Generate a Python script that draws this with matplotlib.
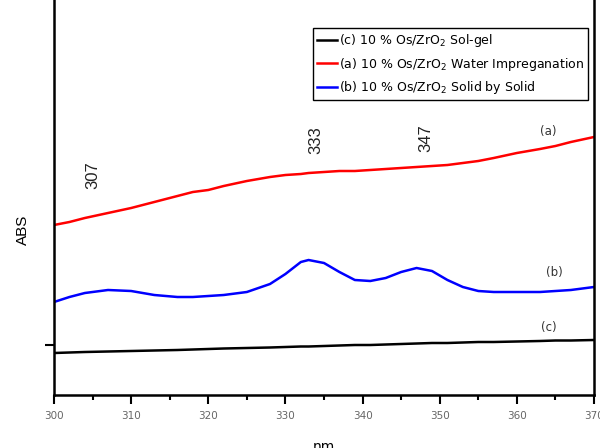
import numpy as np
import matplotlib
matplotlib.use("Agg")
import matplotlib.pyplot as plt

plt.rcParams['font.family'] = ['DejaVu Sans']

# wavelength (nm) and absorbance (arbitrary units)
nm = [300, 302, 304, 307, 310, 313, 316, 318, 320, 322, 325, 328, 330, 332, 333,
      335, 337, 339, 341, 343, 345, 347, 349, 351, 353, 355, 357, 360, 363, 365,
      367, 370]

abs_a = [1.73, 1.76, 1.80, 1.85, 1.90, 1.96, 2.02, 2.06, 2.08, 2.12, 2.17, 2.21,
         2.23, 2.24, 2.25, 2.26, 2.27, 2.27, 2.28, 2.29, 2.30, 2.31, 2.32, 2.33,
         2.35, 2.37, 2.40, 2.45, 2.49, 2.52, 2.56, 2.61]

abs_b = [0.96, 1.01, 1.05, 1.08, 1.07, 1.03, 1.01, 1.01, 1.02, 1.03, 1.06, 1.14,
         1.24, 1.36, 1.38, 1.35, 1.26, 1.18, 1.17, 1.20, 1.26, 1.30, 1.27, 1.18,
         1.11, 1.07, 1.06, 1.06, 1.06, 1.07, 1.08, 1.11]

abs_c = [0.45, 0.455, 0.46, 0.465, 0.47, 0.475, 0.48, 0.485, 0.49, 0.495, 0.50,
         0.505, 0.51, 0.515, 0.515, 0.52, 0.525, 0.53, 0.53, 0.535, 0.54, 0.545,
         0.55, 0.55, 0.555, 0.56, 0.56, 0.565, 0.57, 0.575, 0.575, 0.58]

labels = ["(c) 10 % Os/ZrO$_2$ Sol-gel",
          "(a) 10 % Os/ZrO$_2$ Water Impreganation",
          "(b) 10 % Os/ZrO$_2$ Solid by Solid"]

peaks = [307, 333, 347]
peak_y = [2.23, 2.58, 2.60]

fig = plt.figure(figsize=(6, 4.48), dpi=100)
ax = fig.add_axes([0.09, 0.1183, 0.90, 0.8817])

ax.plot(nm, abs_c, color='black', lw=1.8, label=labels[0])
ax.plot(nm, abs_a, color='red', lw=1.8, label=labels[1])
ax.plot(nm, abs_b, color='blue', lw=1.8, label=labels[2])

# peak labels sit a little off their wavelength in the original
shifts = [-2.0, 0.9, 1.2]
for p, yy, dx in zip(peaks, peak_y, shifts):
    ax.text(p + dx, yy, str(p), rotation=90, ha='center', va='center',
            fontsize=12, color='#222222', family='Liberation Sans')

ax.text(364.1, 2.67, "(a)", fontsize=8.5, ha='center', va='center', color='#333333')
ax.text(364.8, 1.26, "(b)", fontsize=8.5, ha='center', va='center', color='#333333')
ax.text(364.1, 0.71, "(c)", fontsize=8.5, ha='center', va='center', color='#333333')

ax.set_xlim(300, 370)
ax.set_ylim(0.03, 3.98)
ax.set_xticks(np.arange(300, 371, 10))
ax.set_xticks(np.arange(305, 370, 10), minor=True)
ax.set_yticks([0.53])
ax.set_yticklabels([])
ax.tick_params(axis='x', which='major', length=6.5, width=1.5, labelsize=7.5,
               labelcolor='#666666', pad=5)
ax.tick_params(axis='x', which='minor', length=3.5, width=1.5)
ax.tick_params(axis='y', length=6.5, width=1.5)

for s in ['left', 'right', 'bottom']:
    ax.spines[s].set_linewidth(1.8)
ax.spines['top'].set_visible(False)

ax.set_ylabel("ABS", fontsize=11, family='Liberation Sans')
ax.yaxis.set_label_coords(-0.044, 0.418)
ax.set_xlabel("nm", fontsize=10, labelpad=14)

leg = ax.legend(loc='upper right', bbox_to_anchor=(0.989, 0.929), fontsize=9,
                handlelength=1.6, handletextpad=0.1, borderpad=0.35,
                labelspacing=0.5, fancybox=False, framealpha=1, borderaxespad=0)
leg.get_frame().set_edgecolor('black')
leg.get_frame().set_linewidth(1.0)

fig.savefig("out.png", dpi=100)
